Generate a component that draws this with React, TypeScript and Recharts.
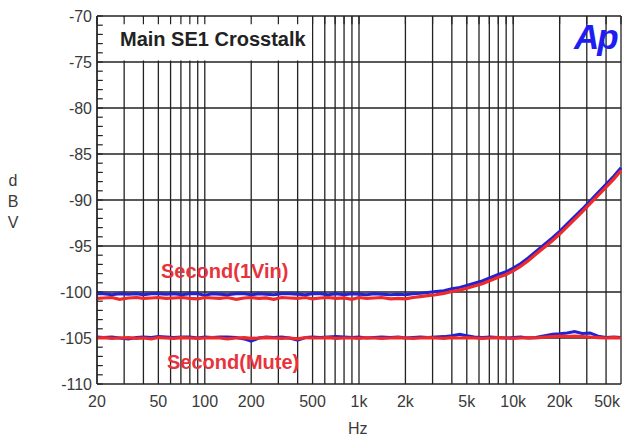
import {
  LineChart,
  Line,
  XAxis,
  YAxis,
  CartesianGrid,
  ReferenceLine,
  ReferenceArea,
} from "recharts";

// sweep frequencies (Hz)
const freqs = [
  20, 22, 25, 28, 32, 36, 40, 45, 50, 56,
  63, 71, 80, 90, 100, 112, 125, 140, 160, 180,
  200, 224, 250, 280, 315, 355, 400, 450, 500, 560,
  630, 710, 800, 900, 1000, 1120, 1250, 1400, 1600, 1800,
  2000, 2240, 2500, 2800, 3150, 3550, 4000, 4500, 5000, 5600,
  6300, 7100, 8000, 9000, 10000, 11200, 12500, 14000, 16000, 18000,
  20000, 22400, 25000, 28000, 31500, 35500, 40000, 45000, 50000,
];

// Second(1Vin), channel A (blue) and B (red), dBV
const vinBlue = [
  -100.2, -100.2, -100.3, -100.2, -100.25, -100.2, -100.3, -100.2, -100.2, -100.25,
  -100.2, -100.3, -100.2, -100.2, -100.35, -100.2, -100.25, -100.3, -100.2, -100.2,
  -100.3, -100.2, -100.25, -100.3, -100.2, -100.2, -100.25, -100.3, -100.2, -100.2,
  -100.3, -100.2, -100.3, -100.2, -100.25, -100.3, -100.2, -100.25, -100.3, -100.25,
  -100.3, -100.2, -100.15, -100.05, -99.95, -99.85, -99.65, -99.5, -99.3, -99.05,
  -98.8, -98.45, -98.1, -97.8, -97.4, -96.9, -96.3, -95.6, -94.8, -94.1,
  -93.4, -92.6, -91.8, -91.0, -90.1, -89.2, -88.3, -87.4, -86.5,
];
const vinRed = [
  -100.7, -100.65, -100.6, -100.8, -100.65, -100.6, -100.7, -100.65, -100.6, -100.7,
  -100.65, -100.6, -100.7, -100.75, -100.6, -100.65, -100.7, -100.6, -100.8, -100.65,
  -100.6, -100.7, -100.65, -100.8, -100.6, -100.65, -100.7, -100.6, -100.75, -100.65,
  -100.6, -100.7, -100.65, -100.8, -100.6, -100.7, -100.65, -100.6, -100.75, -100.7,
  -100.75, -100.6, -100.5, -100.4, -100.3, -100.15, -99.95, -99.8, -99.6, -99.35,
  -99.1, -98.75, -98.4, -98.1, -97.7, -97.2, -96.6, -95.9, -95.1, -94.4,
  -93.7, -92.9, -92.1, -91.3, -90.4, -89.5, -88.6, -87.7, -86.8,
];

// Second(Mute)
const muteBlue = [
  -104.9, -104.95, -104.9, -105.0, -105.1, -104.95, -104.9, -104.95, -104.85, -104.9,
  -104.95, -104.9, -104.9, -105.0, -104.9, -104.95, -104.9, -104.9, -104.95, -105.1,
  -105.35, -105.0, -104.9, -104.95, -104.9, -105.0, -105.25, -104.95, -104.9, -104.95,
  -104.9, -104.85, -104.9, -104.95, -104.9, -105.0, -104.95, -104.9, -104.95, -104.9,
  -105.0, -104.95, -104.9, -104.95, -104.9, -104.85, -104.75, -104.6, -104.75, -104.9,
  -104.95, -104.9, -104.95, -105.0, -104.95, -104.9, -105.0, -104.95, -104.75, -104.6,
  -104.55, -104.45, -104.3, -104.5, -104.45, -104.8, -104.95, -104.9, -104.95,
];
const muteRed = [
  -105.0, -104.95, -105.05, -105.0, -104.95, -105.05, -105.0, -105.1, -104.95, -105.0,
  -105.05, -104.95, -105.0, -105.05, -105.0, -104.95, -105.0, -105.1, -105.0, -104.95,
  -105.05, -105.0, -104.95, -105.0, -105.05, -105.0, -105.1, -104.95, -105.0, -105.0,
  -104.95, -105.05, -105.0, -105.0, -105.05, -104.95, -105.0, -105.05, -105.0, -104.95,
  -105.0, -105.05, -105.0, -104.95, -105.0, -105.05, -104.95, -105.0, -104.95, -105.0,
  -105.05, -105.0, -104.95, -105.0, -105.05, -105.0, -104.95, -105.0, -104.9, -104.85,
  -104.8, -104.85, -104.8, -104.85, -104.9, -104.95, -105.0, -104.95, -105.0,
];

const xGridTicks = [
  20, 30, 40, 50, 60, 70, 80, 90,
  100, 200, 300, 400, 500, 600, 700, 800, 900,
  1000, 2000, 3000, 4000, 5000, 6000, 7000, 8000, 9000,
  10000, 20000, 30000, 40000, 50000,
];
const xLabelFreqs = [20, 50, 100, 200, 500, 1000, 2000, 5000, 10000, 20000, 50000];
const xLabelText = ["20", "50", "100", "200", "500", "1k", "2k", "5k", "10k", "20k", "50k"];

const yTicks = [
  -110, -109, -108, -107, -106, -105, -104, -103, -102, -101,
  -100, -99, -98, -97, -96, -95, -94, -93, -92, -91,
  -90, -89, -88, -87, -86, -85, -84, -83, -82, -81,
  -80, -79, -78, -77, -76, -75, -74, -73, -72, -71, -70,
];
const yGrid = [-105, -100, -95, -90, -85, -80, -75];

const data = freqs.map((f, i) => ({
  f,
  vinBlue: vinBlue[i],
  vinRed: vinRed[i],
  muteBlue: muteBlue[i],
  muteRed: muteRed[i],
}));

const GRID = "#222";
const BLUE = "#2222d0";
const RED = "#ee2a2a";

const XTick = ({ x, y, payload }: any) => {
  const idx = xLabelFreqs.indexOf(payload.value);
  if (idx < 0) return <g />;
  const last = idx === xLabelFreqs.length - 1;
  return (
    <text
      x={last ? x - 1 : x}
      y={y}
      dy="0.71em"
      textAnchor={last ? "end" : "middle"}
      fontSize={16}
      fill="#3a3a3a"
    >
      {xLabelText[idx]}
    </text>
  );
};

const abs = (style: any) => ({ position: "absolute" as const, ...style });

export default function App() {
  return (
    <div
      style={{
        position: "absolute",
        left: 0,
        top: 0,
        width: 622,
        height: 436,
        overflow: "hidden",
        background: "#fff",
        fontFamily: "Arial, 'Liberation Sans', sans-serif",
      }}
    >
      <LineChart
        width={622}
        height={436}
        data={data}
        margin={{ top: 16, right: 1, bottom: 12, left: 0 }}
      >
        <CartesianGrid horizontal={false} stroke={GRID} strokeWidth={1.3} />
        <XAxis
          dataKey="f"
          type="number"
          scale="log"
          domain={[20, 50000]}
          ticks={xGridTicks}
          interval={0}
          height={40}
          tickSize={0}
          tickMargin={12}
          tick={<XTick />}
          axisLine={{ stroke: GRID, strokeWidth: 1.3 }}
          tickLine={false}
        />
        <YAxis
          type="number"
          domain={[-110, -70]}
          ticks={yTicks}
          interval={0}
          width={97}
          tickSize={0}
          tickMargin={5}
          tickFormatter={(v: number) => (v % 5 === 0 ? String(v) : "")}
          tick={{ fontSize: 16, fill: "#3a3a3a" }}
          axisLine={{ stroke: GRID, strokeWidth: 1.3 }}
          tickLine={false}
        />
        {/* white title box over the grid */}
        <ReferenceArea
          x1={20.3}
          x2={495}
          y1={-74.85}
          y2={-70.1}
          fill="#fff"
          fillOpacity={1}
          stroke="none"
        />
        {yGrid.map((v) => (
          <ReferenceLine key={v} y={v} stroke={GRID} strokeWidth={1.3} />
        ))}
        <ReferenceLine y={-70} stroke={GRID} strokeWidth={1.3} />
        {/* inward minor ticks on the left axis */}
        {yTicks.map((v) => (
          <ReferenceLine
            key={"yt" + v}
            segment={[
              { x: 20, y: v },
              { x: 21.8, y: v },
            ]}
            stroke={GRID}
            strokeWidth={1.2}
          />
        ))}
        {/* inward ticks along the top edge */}
        {xGridTicks.map((f) => (
          <ReferenceLine
            key={"xt" + f}
            segment={[
              { x: f, y: -70 },
              { x: f, y: -70.9 },
            ]}
            stroke={GRID}
            strokeWidth={1.2}
          />
        ))}
        <Line dataKey="vinBlue" stroke={BLUE} strokeWidth={3} dot={false} type="linear" isAnimationActive={false} />
        <Line dataKey="muteBlue" stroke={BLUE} strokeWidth={3} dot={false} type="linear" isAnimationActive={false} />
        <Line dataKey="vinRed" stroke={RED} strokeWidth={3.2} dot={false} type="linear" isAnimationActive={false} />
        <Line dataKey="muteRed" stroke={RED} strokeWidth={3.2} dot={false} type="linear" isAnimationActive={false} />
      </LineChart>

      <div style={abs({ left: 120, top: 28, fontSize: 20, fontWeight: "bold", color: "#222", lineHeight: "23px" })}>
        Main SE1 Crosstalk
      </div>
      <div
        style={abs({
          left: 574,
          top: 17,
          fontSize: 35,
          fontWeight: "bold",
          fontStyle: "italic",
          color: "#1e1ef0",
          letterSpacing: -2,
          lineHeight: "40px",
        })}
      >
        Ap
      </div>
      <div style={abs({ left: 161, top: 260, fontSize: 20, fontWeight: "bold", color: "#e8333c", lineHeight: "23px" })}>
        Second(1Vin)
      </div>
      <div style={abs({ left: 167, top: 351, fontSize: 20, fontWeight: "bold", color: "#e8333c", lineHeight: "23px" })}>
        Second(Mute)
      </div>
      <div style={abs({ left: 0, top: 170, width: 26, textAlign: "center", fontSize: 16, color: "#3a3a3a", lineHeight: "21px" })}>
        d<br />B<br />V
      </div>
      <div style={abs({ left: 348, top: 420, fontSize: 16, color: "#3a3a3a", lineHeight: "18px" })}>Hz</div>
    </div>
  );
}
